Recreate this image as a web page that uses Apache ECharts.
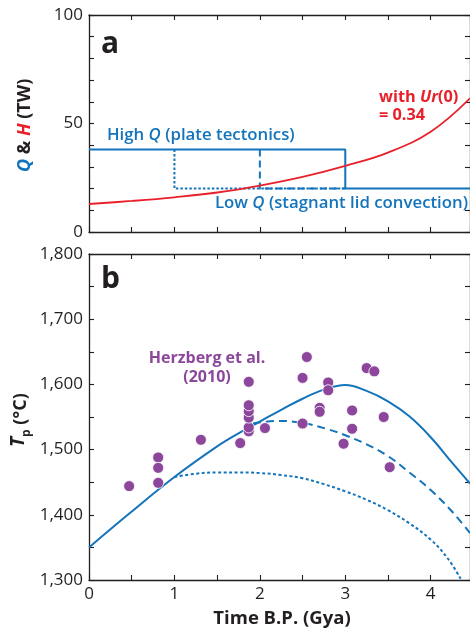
<!DOCTYPE html>
<html>
<head>
<meta charset="utf-8">
<script src="https://cdn.jsdelivr.net/npm/echarts@6/dist/echarts.min.js"></script>
<style>
  html, body { margin: 0; padding: 0; background: #fff; }
  #chart { width: 470px; height: 631px; }
</style>
</head>
<body>
<div id="chart"></div>
<script>
// ---- Panel a: heat flow Q and radiogenic heat production H (TW) ----
const highQ = [[0, 38], [3, 38], [3, 20], [4.46, 20]];
const switchAt1 = [[1, 38], [1, 20], [3, 20]];
const switchAt2 = [[2, 38], [2, 20], [3, 20]];
const heatH = [[0, 12.9], [0.5, 14.3], [1, 16.0], [1.5, 18.2], [2, 21.4], [2.5, 25.4],
               [3, 30.5], [3.5, 36.6], [4, 46.2], [4.46, 61.6]];

// ---- Panel b: mantle potential temperature Tp (°C) ----
const tpPlate = [[0, 1350], [0.5, 1405], [1, 1458], [1.5, 1505], [1.75, 1525], [2, 1543],
                 [2.25, 1561], [2.5, 1578], [2.75, 1592], [3, 1599], [3.25, 1590],
                 [3.5, 1574], [3.75, 1551], [4, 1519], [4.25, 1480], [4.46, 1448]];
const tpLid2 = [[1.92, 1540], [2.2, 1544], [2.5, 1541], [2.8, 1531], [3, 1522], [3.25, 1508],
                [3.5, 1490], [3.75, 1465], [4, 1438], [4.25, 1405], [4.46, 1372]];
const tpLid1 = [[1, 1458], [1.25, 1463], [1.5, 1465], [1.75, 1465], [2, 1464], [2.25, 1461],
                [2.5, 1456], [2.75, 1447], [3, 1436], [3.25, 1423], [3.5, 1407], [3.75, 1387],
                [4, 1362], [4.2, 1333], [4.35, 1302]];
const herzberg = [[0.47, 1444], [0.81, 1488], [0.81, 1472], [0.81, 1449], [1.31, 1515],
                  [1.77, 1510], [1.87, 1528], [1.87, 1534], [1.87, 1549], [1.87, 1559],
                  [1.87, 1568], [1.87, 1604], [2.06, 1533], [2.5, 1540], [2.5, 1610],
                  [2.55, 1642], [2.70, 1564], [2.70, 1558], [2.80, 1603], [2.80, 1591],
                  [2.98, 1509], [3.08, 1532], [3.08, 1560], [3.25, 1625], [3.34, 1620],
                  [3.45, 1550], [3.52, 1473]];

const timeTicks = [0, 1, 2, 3, 4];
const heatTicks = [0, 50, 100];
const tempTicks = [1300, 1400, 1500, 1600, 1700, 1800];

const BLUE = '#1474bb';
const RED = '#e8202a';
const PURPLE = '#8c479c';
const INK = '#231f20';
const FONT = '"Open Sans", sans-serif';

const chart = echarts.init(document.getElementById('chart'));

function xAxisDef(gridIndex, position, withLabels) {
  return {
    type: 'value', gridIndex, position, min: 0, max: 4.46, interval: 0.5,
    axisLine: { show: true, onZero: false, lineStyle: { color: INK, width: 1.3 } },
    axisTick: { show: true, inside: true, length: 5, lineStyle: { color: INK, width: 1.1 } },
    axisLabel: {
      show: withLabels, margin: 6, color: INK, fontFamily: FONT, fontSize: 17, showMaxLabel: false,
      formatter: v => (timeTicks.includes(v) ? String(v) : '')
    },
    splitLine: { show: false }
  };
}
function yAxisDef(gridIndex, position, min, max, interval, ticks, withLabels, fmt) {
  return {
    type: 'value', gridIndex, position, min, max, interval,
    axisLine: { show: true, onZero: false, lineStyle: { color: INK, width: 1.3 } },
    axisTick: { show: true, inside: true, length: 5, lineStyle: { color: INK, width: 1.1 } },
    axisLabel: {
      show: withLabels, margin: 6, color: INK, fontFamily: FONT, fontSize: 17,
      formatter: v => (ticks.includes(v) ? fmt(v) : '')
    },
    splitLine: { show: false }
  };
}
const commaFmt = v => v.toLocaleString('en-US');

chart.setOption({
  animation: false,
  backgroundColor: '#fff',
  grid: [
    { left: 89, right: -1, top: 15, height: 217 },
    { left: 89, right: -1, top: 254, height: 326 }
  ],
  xAxis: [
    xAxisDef(0, 'bottom', false), xAxisDef(0, 'top', false),
    xAxisDef(1, 'bottom', true), xAxisDef(1, 'top', false)
  ],
  yAxis: [
    yAxisDef(0, 'left', 0, 100, 10, heatTicks, true, v => String(v)),
    yAxisDef(0, 'right', 0, 100, 10, heatTicks, false, v => String(v)),
    yAxisDef(1, 'left', 1300, 1800, 50, tempTicks, true, commaFmt),
    yAxisDef(1, 'right', 1300, 1800, 50, tempTicks, false, commaFmt)
  ],
  series: [
    { type: 'line', xAxisIndex: 0, yAxisIndex: 0, data: switchAt1, symbol: 'none',
      lineStyle: { color: BLUE, width: 2, type: [2.5, 2] } },
    { type: 'line', xAxisIndex: 0, yAxisIndex: 0, data: switchAt2, symbol: 'none',
      lineStyle: { color: BLUE, width: 2, type: [7, 4] } },
    { type: 'line', xAxisIndex: 0, yAxisIndex: 0, data: highQ, symbol: 'none',
      lineStyle: { color: BLUE, width: 2 } },
    { type: 'line', xAxisIndex: 0, yAxisIndex: 0, data: heatH, symbol: 'none', smooth: 0.4,
      lineStyle: { color: RED, width: 1.8 } },

    { type: 'line', xAxisIndex: 2, yAxisIndex: 2, data: tpLid1, symbol: 'none', smooth: 0.4,
      lineStyle: { color: BLUE, width: 2, type: [3, 2.5] } },
    { type: 'line', xAxisIndex: 2, yAxisIndex: 2, data: tpLid2, symbol: 'none', smooth: 0.4,
      lineStyle: { color: BLUE, width: 2, type: [8, 5] } },
    { type: 'line', xAxisIndex: 2, yAxisIndex: 2, data: tpPlate, symbol: 'none', smooth: 0.4,
      lineStyle: { color: BLUE, width: 2 } },
    { type: 'scatter', xAxisIndex: 2, yAxisIndex: 2, data: herzberg, symbol: 'circle', symbolSize: 11,
      itemStyle: { color: PURPLE, borderColor: '#fff', borderWidth: 0.8, opacity: 1 }, z: 5 }
  ],
  graphic: [
    { type: 'text', x: 101, y: 44, style: { text: 'a', font: 'bold 30px ' + FONT, fill: INK, verticalAlign: 'middle' } },
    { type: 'text', x: 101, y: 279, style: { text: 'b', font: 'bold 30px ' + FONT, fill: INK, verticalAlign: 'middle' } },
    { type: 'text', x: 107, y: 135, style: { text: 'High {i|Q} (plate tectonics)', font: '600 16.8px ' + FONT, fill: BLUE, verticalAlign: 'middle',
        rich: { i: { fontStyle: 'italic', fontWeight: 600, fontSize: 16.8, fontFamily: 'Open Sans', fill: BLUE } } } },
    { type: 'text', x: 468, y: 203, style: { text: 'Low {i|Q} (stagnant lid convection)', font: '600 16.8px ' + FONT, fill: BLUE, align: 'right', verticalAlign: 'middle',
        rich: { i: { fontStyle: 'italic', fontWeight: 600, fontSize: 16.8, fontFamily: 'Open Sans', fill: BLUE } } } },
    { type: 'text', x: 379, y: 97, style: { text: 'with {i|Ur}(0)', font: 'bold 16.3px ' + FONT, fill: RED, verticalAlign: 'middle',
        rich: { i: { fontStyle: 'italic', fontWeight: 'bold', fontSize: 16.3, fontFamily: 'Open Sans', fill: RED } } } },
    { type: 'text', x: 379, y: 115, style: { text: '= 0.34', font: 'bold 16.3px ' + FONT, fill: RED, verticalAlign: 'middle' } },
    { type: 'text', x: 207, y: 358, style: { text: 'Herzberg et al.', font: 'bold 16px ' + FONT, fill: PURPLE, align: 'center', verticalAlign: 'middle' } },
    { type: 'text', x: 207, y: 377, style: { text: '(2010)', font: 'bold 16px ' + FONT, fill: PURPLE, align: 'center', verticalAlign: 'middle' } },
    { type: 'text', x: 282, y: 619, style: { text: 'Time B.P. (Gya)', font: 'bold 18.5px ' + FONT, fill: INK, align: 'center', verticalAlign: 'middle' } },
    { type: 'text', x: 25, y: 172, rotation: Math.PI / 2,
      style: { text: '{q|Q} & {h|H} (TW)', font: 'bold 18px ' + FONT, fill: INK, align: 'left', verticalAlign: 'middle',
        rich: {
          q: { fontStyle: 'italic', fontWeight: 'bold', fontSize: 18, fontFamily: 'Open Sans', fill: BLUE },
          h: { fontStyle: 'italic', fontWeight: 'bold', fontSize: 18, fontFamily: 'Open Sans', fill: RED }
        } } },
    { type: 'text', x: 21, y: 447, rotation: Math.PI / 2,
      style: { text: '{t|T}{p|p} (°C)', font: 'bold 18px ' + FONT, fill: INK, align: 'left', verticalAlign: 'middle',
        rich: {
          t: { fontStyle: 'italic', fontWeight: 'bold', fontSize: 19, fontFamily: 'Open Sans', fill: INK, verticalAlign: 'top', lineHeight: 24 },
          p: { fontWeight: 'bold', fontSize: 12, fontFamily: 'Open Sans', fill: INK, verticalAlign: 'bottom', lineHeight: 24 }
        } } }
  ]
});
</script>
</body>
</html>
